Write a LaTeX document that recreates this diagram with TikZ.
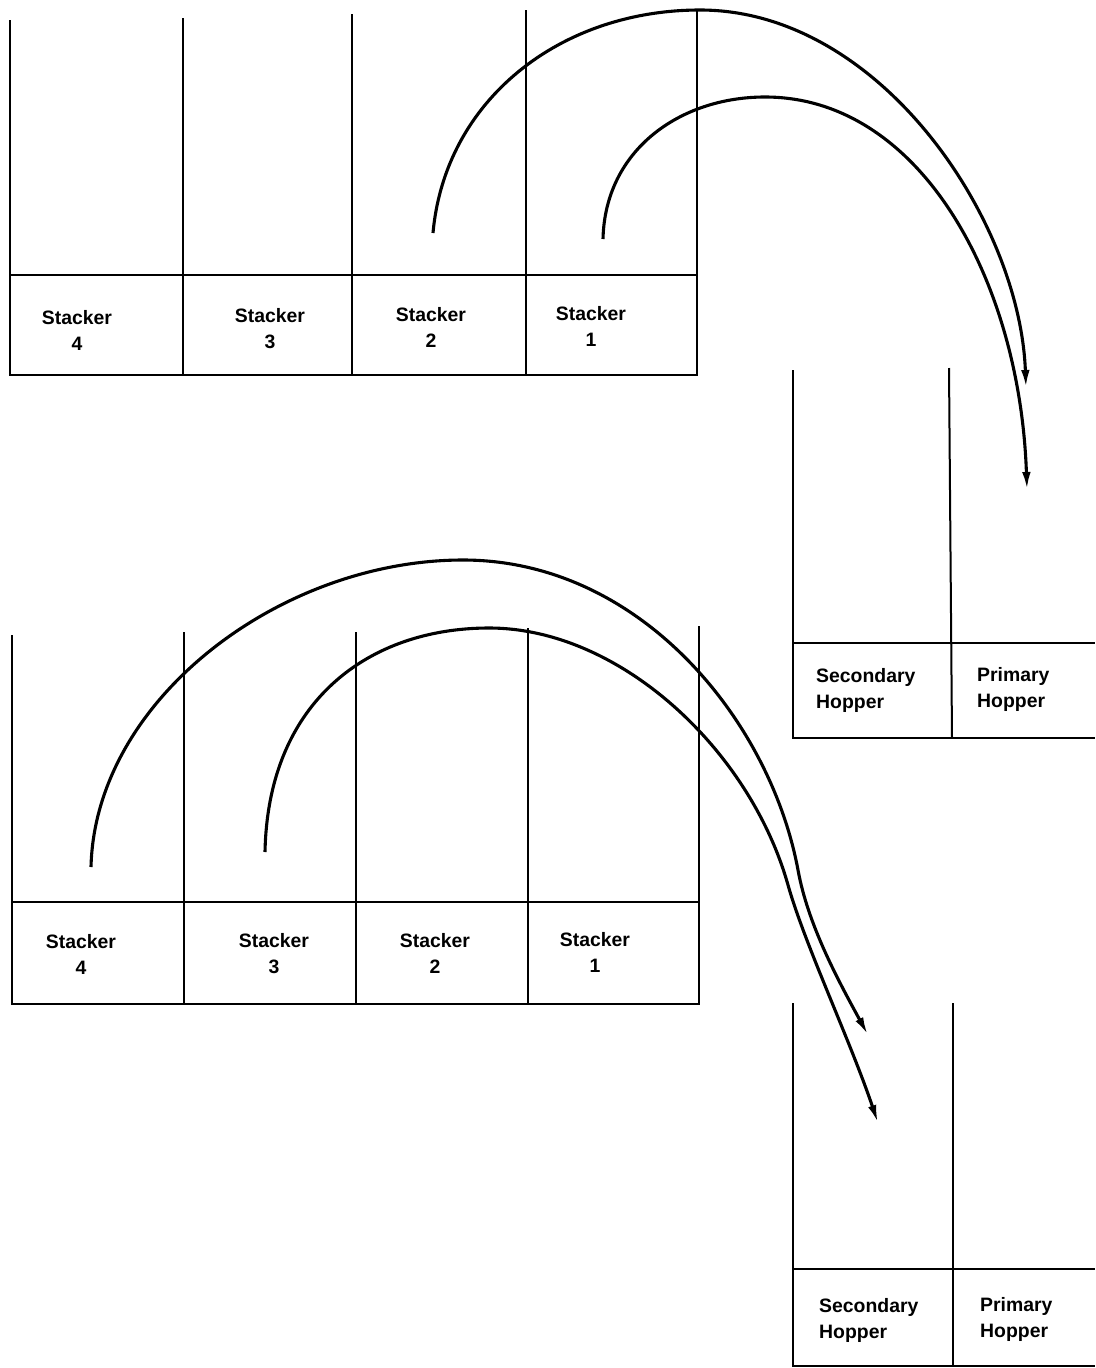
\documentclass[tikz,border=0pt]{standalone}
\usepackage{fontspec}
\setmainfont{Liberation Sans}
\usetikzlibrary{arrows.meta}
\begin{document}
\begin{tikzpicture}[x=1pt,y=-1pt,
  box/.style={line width=2pt},
  flow/.style={line width=3.1pt,-{Latex[length=18pt,width=8.5pt]}},
  lbl/.style={font=\bfseries\fontsize{19.4}{26}\selectfont, inner sep=0pt, anchor=north, align=center},
  hlbl/.style={lbl, anchor=north west, align=left}]
\path[use as bounding box, fill=white] (0,0) rectangle (1095,1368);

% ---- top stacker group ----
\draw[box] (10,20) -- (10,375) -- (697,375) -- (697,10);
\draw[box] (10,275) -- (697,275);
\draw[box] (183,18) -- (183,375);
\draw[box] (352,14) -- (352,375);
\draw[box] (526,10) -- (526,375);
\node[lbl] (t4) at (77,310) {Stacker\\4};
\node[lbl] (t3) at (270,308) {Stacker\\3};
\node[lbl] (t2) at (431,307) {Stacker\\2};
\node[lbl] (t1) at (591,306) {Stacker\\1};

% ---- top hopper group ----
\draw[box] (793,370) -- (793,738) -- (1095,738);
\draw[box] (793,643) -- (1095,643);
\draw[box] (949,368) -- (952,738);
\node[hlbl] (th2) at (816,668) {Secondary\\Hopper};
\node[hlbl] (th1) at (977,667) {Primary\\Hopper};

% ---- bottom stacker group ----
\draw[box] (12,635) -- (12,1004) -- (699,1004) -- (699,626);
\draw[box] (12,902) -- (699,902);
\draw[box] (184,632) -- (184,1004);
\draw[box] (356,632) -- (356,1004);
\draw[box] (528,628) -- (528,1004);
\node[lbl] (b4) at (81,934) {Stacker\\4};
\node[lbl] (b3) at (274,933) {Stacker\\3};
\node[lbl] (b2) at (435,933) {Stacker\\2};
\node[lbl] (b1) at (595,932) {Stacker\\1};

% ---- bottom hopper group ----
\draw[box] (793,1003) -- (793,1366) -- (1095,1366);
\draw[box] (793,1269) -- (1095,1269);
\draw[box] (953,1003) -- (953,1366);
\node[hlbl] (bh2) at (819,1298) {Secondary\\Hopper};
\node[hlbl] (bh1) at (980,1297) {Primary\\Hopper};

% ---- flow arcs ----
\coordinate (a2s) at (433,233);
\coordinate (a2e) at (1026,388);
\coordinate (a1s) at (603,239);
\coordinate (a1e) at (1027,490);
\coordinate (c4s) at (91,867);
\coordinate (c4e) at (868,1035);
\coordinate (c3s) at (265,852);
\coordinate (c3e) at (878,1123);

\draw[flow] (a2s) .. controls (445,100) and (560,10) .. (700,10)
  .. controls (880,10) and (1020,220) .. (a2e);
\draw[flow] (a1s) .. controls (605,150) and (680,97) .. (765,97)
  .. controls (920,97) and (1020,280) .. (a1e);
\draw[flow] (c4s) .. controls (95,700) and (280,560) .. (463,560)
  .. controls (640,560) and (770,720) .. (798,870)
  .. controls (808,925) and (838,980) .. (c4e);
\draw[flow] (c3s) .. controls (268,700) and (370,628) .. (489,628)
  .. controls (620,628) and (750,750) .. (788,885)
  .. controls (805,945) and (850,1040) .. (c3e);
\end{tikzpicture}
\end{document}
